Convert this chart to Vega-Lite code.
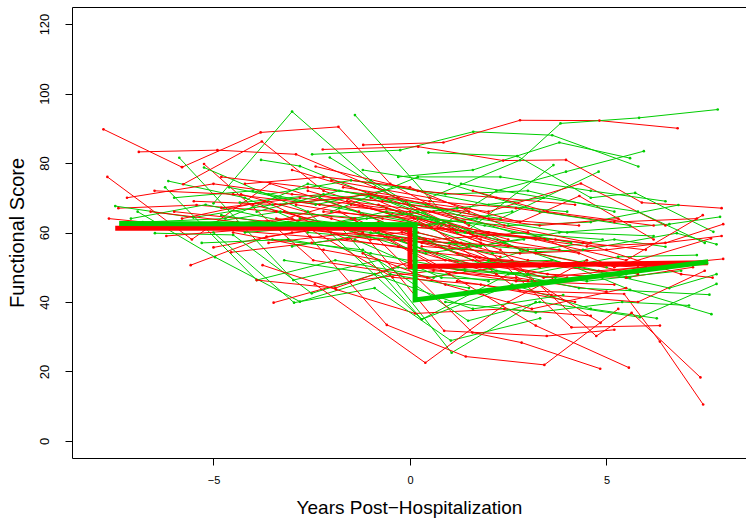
{
"$schema":"https://vega.github.io/schema/vega-lite/v6.json",
"width":674,"height":451,
"autosize":{"type":"none"},
"padding":{"left":72,"top":7,"right":0,"bottom":61},
"background":"white",
"config":{"view":{"stroke":"black","strokeWidth":1},"font":"Liberation Sans"},
"datasets":{
"traj":[
{"i":1,"g":"R","x":-7.8,"y":89.7},{"i":1,"g":"R","x":-5.8,"y":78.8},{"i":1,"g":"R","x":-3.8,"y":88.8},{"i":1,"g":"R","x":-1.82,"y":90.4},{"i":1,"g":"R","x":-0.5,"y":74},{"i":1,"g":"R","x":1.5,"y":62},
{"i":101,"g":"G","x":-5,"y":68.4},{"i":101,"g":"G","x":-3,"y":94.8},{"i":101,"g":"G","x":-1,"y":75},{"i":101,"g":"G","x":1.2,"y":60},{"i":101,"g":"G","x":3.5,"y":58},
{"i":2,"g":"R","x":-7.7,"y":76},{"i":2,"g":"R","x":-5.55,"y":58},{"i":2,"g":"R","x":-3.56,"y":74.1},{"i":2,"g":"R","x":-1.3,"y":66},{"i":2,"g":"R","x":1.2,"y":54},{"i":2,"g":"R","x":3.3,"y":50},
{"i":102,"g":"G","x":-1.4,"y":93.8},{"i":102,"g":"G","x":0.76,"y":66.5},{"i":102,"g":"G","x":2.8,"y":55},{"i":102,"g":"G","x":5,"y":50},
{"i":3,"g":"R","x":-6.9,"y":83.2},{"i":3,"g":"R","x":-4.9,"y":83.7},{"i":3,"g":"R","x":-2.9,"y":82.5},{"i":3,"g":"R","x":-0.9,"y":73},{"i":3,"g":"R","x":1.8,"y":58},
{"i":103,"g":"G","x":-2.49,"y":82.5},{"i":103,"g":"G","x":-0.25,"y":83.7},{"i":103,"g":"G","x":1.61,"y":89},{"i":103,"g":"G","x":3.62,"y":88},{"i":103,"g":"G","x":5.81,"y":79},
{"i":4,"g":"R","x":-1.19,"y":85.2},{"i":4,"g":"R","x":0.85,"y":85.9},{"i":4,"g":"R","x":2.8,"y":92.3},{"i":4,"g":"R","x":4.82,"y":92.2},{"i":4,"g":"R","x":6.81,"y":90},
{"i":104,"g":"G","x":0.5,"y":70},{"i":104,"g":"G","x":2.8,"y":80.8},{"i":104,"g":"G","x":3.83,"y":91.4},{"i":104,"g":"G","x":5.83,"y":93},{"i":104,"g":"G","x":7.83,"y":95.4},
{"i":5,"g":"R","x":-7.42,"y":67},{"i":5,"g":"R","x":-5.43,"y":67.9},{"i":5,"g":"R","x":-3.4,"y":66},{"i":5,"g":"R","x":-1.4,"y":64},{"i":5,"g":"R","x":0.9,"y":52},
{"i":105,"g":"G","x":-0.3,"y":76},{"i":105,"g":"G","x":1.6,"y":78},{"i":105,"g":"G","x":3.8,"y":85.9},{"i":105,"g":"G","x":5.6,"y":81.4},
{"i":6,"g":"R","x":-7.66,"y":64},{"i":6,"g":"R","x":-5,"y":61},{"i":6,"g":"R","x":-2.54,"y":58.8},{"i":6,"g":"R","x":-0.3,"y":56},{"i":6,"g":"R","x":2.2,"y":48},
{"i":106,"g":"G","x":0.8,"y":62},{"i":106,"g":"G","x":2.2,"y":72},{"i":106,"g":"G","x":3.97,"y":77.5},{"i":106,"g":"G","x":5.95,"y":83.4},
{"i":7,"g":"R","x":-5.77,"y":73.9},{"i":7,"g":"R","x":-3.77,"y":86.2},{"i":7,"g":"R","x":-2.2,"y":72},{"i":7,"g":"R","x":0.3,"y":62},{"i":7,"g":"R","x":2.5,"y":56},
{"i":107,"g":"G","x":-5.87,"y":81.5},{"i":107,"g":"G","x":-2.97,"y":46.3},{"i":107,"g":"G","x":-0.8,"y":52},{"i":107,"g":"G","x":1.06,"y":25.4},{"i":107,"g":"G","x":3.2,"y":40},
{"i":8,"g":"R","x":-5.24,"y":79.7},{"i":8,"g":"R","x":-2.46,"y":52},{"i":8,"g":"R","x":0.44,"y":47},{"i":8,"g":"R","x":2.9,"y":51},
{"i":108,"g":"G","x":-5.24,"y":78.7},{"i":108,"g":"G","x":-2.6,"y":66},{"i":108,"g":"G","x":0.3,"y":35},{"i":108,"g":"G","x":2.5,"y":48},{"i":108,"g":"G","x":4.5,"y":52},
{"i":9,"g":"R","x":-5,"y":55.7},{"i":9,"g":"R","x":-3,"y":60},{"i":9,"g":"R","x":-0.8,"y":63},{"i":9,"g":"R","x":1.6,"y":52},{"i":9,"g":"R","x":4,"y":47},
{"i":109,"g":"G","x":-6.15,"y":74.8},{"i":109,"g":"G","x":-4.2,"y":70},{"i":109,"g":"G","x":-2.54,"y":61.7},{"i":109,"g":"G","x":-0.5,"y":65},{"i":109,"g":"G","x":1.8,"y":56},
{"i":10,"g":"R","x":-5.58,"y":50.6},{"i":10,"g":"R","x":-3.65,"y":58.8},{"i":10,"g":"R","x":-1.6,"y":62},{"i":10,"g":"R","x":0.6,"y":58},{"i":10,"g":"R","x":3,"y":60},
{"i":110,"g":"G","x":-6.23,"y":73},{"i":110,"g":"G","x":-3.9,"y":46.3},{"i":110,"g":"G","x":-1.9,"y":52},{"i":110,"g":"G","x":0.6,"y":47},{"i":110,"g":"G","x":3,"y":55},
{"i":11,"g":"R","x":-4.8,"y":67.1},{"i":11,"g":"R","x":-2.8,"y":70},{"i":11,"g":"R","x":-0.6,"y":67},{"i":11,"g":"R","x":1.7,"y":59},{"i":11,"g":"R","x":4.3,"y":54},
{"i":111,"g":"G","x":-7.5,"y":67.6},{"i":111,"g":"G","x":-5.51,"y":64.3},{"i":111,"g":"G","x":-3.5,"y":68},{"i":111,"g":"G","x":-1.5,"y":70},{"i":111,"g":"G","x":0.7,"y":63},
{"i":12,"g":"R","x":-4.55,"y":54.3},{"i":12,"g":"R","x":-2.5,"y":57},{"i":12,"g":"R","x":-0.2,"y":60},{"i":12,"g":"R","x":2.3,"y":53},
{"i":112,"g":"G","x":-6.93,"y":66},{"i":112,"g":"G","x":-4.96,"y":52.9},{"i":112,"g":"G","x":-2.8,"y":40.1},{"i":112,"g":"G","x":-0.5,"y":48},{"i":112,"g":"G","x":1.5,"y":44},
{"i":13,"g":"R","x":-3.47,"y":39.8},{"i":13,"g":"R","x":-1.5,"y":46},{"i":13,"g":"R","x":0.6,"y":49},{"i":13,"g":"R","x":2.7,"y":47},{"i":13,"g":"R","x":5,"y":43},
{"i":113,"g":"G","x":-6.49,"y":59.8},{"i":113,"g":"G","x":-4.5,"y":59.3},{"i":113,"g":"G","x":-2.5,"y":42.5},{"i":113,"g":"G","x":-0.3,"y":50},{"i":113,"g":"G","x":2,"y":46},
{"i":14,"g":"R","x":-3.9,"y":46.3},{"i":14,"g":"R","x":-1.9,"y":44},{"i":14,"g":"R","x":0.1,"y":52},{"i":14,"g":"R","x":2.6,"y":52},
{"i":114,"g":"G","x":-3.79,"y":80.9},{"i":114,"g":"G","x":-2.8,"y":79.1},{"i":114,"g":"G","x":-0.8,"y":70},{"i":114,"g":"G","x":1.4,"y":60},{"i":114,"g":"G","x":3.65,"y":79.4},
{"i":15,"g":"R","x":-3.75,"y":50.6},{"i":15,"g":"R","x":-1.88,"y":43.6},{"i":15,"g":"R","x":0.13,"y":36.7},{"i":15,"g":"R","x":2.4,"y":38},{"i":15,"g":"R","x":4.6,"y":36},
{"i":115,"g":"G","x":-4.33,"y":68.6},{"i":115,"g":"G","x":-2.2,"y":71},{"i":115,"g":"G","x":0,"y":68},{"i":115,"g":"G","x":2.3,"y":64},{"i":115,"g":"G","x":4.8,"y":77.5},
{"i":16,"g":"R","x":-2.22,"y":83.9},{"i":16,"g":"R","x":0.21,"y":84.7},{"i":16,"g":"R","x":2.37,"y":80.7},{"i":16,"g":"R","x":3.97,"y":80.9},{"i":16,"g":"R","x":5.9,"y":68.6},{"i":16,"g":"R","x":7.93,"y":67},
{"i":116,"g":"G","x":-5,"y":60},{"i":116,"g":"G","x":-2.95,"y":39.8},{"i":116,"g":"G","x":-0.9,"y":44},{"i":116,"g":"G","x":1.04,"y":28.9},{"i":116,"g":"G","x":3.31,"y":35.3},
{"i":17,"g":"R","x":-2.8,"y":62},{"i":17,"g":"R","x":-0.59,"y":33.4},{"i":17,"g":"R","x":1.42,"y":24.3},{"i":17,"g":"R","x":3.42,"y":21.9},{"i":17,"g":"R","x":5.3,"y":38},
{"i":117,"g":"G","x":-2.04,"y":81.6},{"i":117,"g":"G","x":0.2,"y":66},{"i":117,"g":"G","x":2.4,"y":57},{"i":117,"g":"G","x":4.2,"y":50},{"i":117,"g":"G","x":5.6,"y":43.5},{"i":117,"g":"G","x":7.67,"y":36.5},
{"i":18,"g":"R","x":-2.42,"y":45.1},{"i":18,"g":"R","x":0.39,"y":22.5},{"i":18,"g":"R","x":2.5,"y":40},{"i":18,"g":"R","x":4.5,"y":52},
{"i":118,"g":"G","x":0.47,"y":83},{"i":118,"g":"G","x":2.73,"y":82},{"i":118,"g":"G","x":4.6,"y":70},{"i":118,"g":"G","x":5.73,"y":71.4},{"i":118,"g":"G","x":7.72,"y":60.2},
{"i":19,"g":"R","x":-4,"y":68},{"i":19,"g":"R","x":-1.2,"y":60},{"i":19,"g":"R","x":0.87,"y":31.7},{"i":19,"g":"R","x":3.48,"y":30.2},{"i":19,"g":"R","x":5.2,"y":32},
{"i":119,"g":"G","x":-3.5,"y":58},{"i":119,"g":"G","x":-1.2,"y":55},{"i":119,"g":"G","x":1.48,"y":34.6},{"i":119,"g":"G","x":3.3,"y":40},{"i":119,"g":"G","x":5.85,"y":35.6},{"i":119,"g":"G","x":7.8,"y":45.2},
{"i":20,"g":"R","x":-3.2,"y":66},{"i":20,"g":"R","x":-0.8,"y":58},{"i":20,"g":"R","x":1.59,"y":31.2},{"i":20,"g":"R","x":2.84,"y":28.3},{"i":20,"g":"R","x":4.84,"y":20.8},
{"i":120,"g":"G","x":-1.8,"y":62},{"i":120,"g":"G","x":0.3,"y":35},{"i":120,"g":"G","x":2.6,"y":45},{"i":120,"g":"G","x":4.6,"y":38},{"i":120,"g":"G","x":6.28,"y":35.3},
{"i":21,"g":"R","x":-1.5,"y":64},{"i":21,"g":"R","x":1,"y":48},{"i":21,"g":"R","x":3.2,"y":33.2},{"i":21,"g":"R","x":5.57,"y":21.1},
{"i":121,"g":"G","x":-2.6,"y":60},{"i":121,"g":"G","x":-0.4,"y":58},{"i":121,"g":"G","x":1.8,"y":50},{"i":121,"g":"G","x":4.3,"y":44},{"i":121,"g":"G","x":7.62,"y":42.1},
{"i":22,"g":"R","x":-1,"y":70},{"i":22,"g":"R","x":1.8,"y":57},{"i":22,"g":"R","x":4.11,"y":32.7},{"i":22,"g":"R","x":6.36,"y":33.2},
{"i":122,"g":"G","x":-0.6,"y":62},{"i":122,"g":"G","x":1.7,"y":56},{"i":122,"g":"G","x":3.8,"y":60},{"i":122,"g":"G","x":6.6,"y":62.4},{"i":122,"g":"G","x":7.89,"y":64.5},
{"i":23,"g":"R","x":-2.6,"y":72},{"i":23,"g":"R","x":0.5,"y":62},{"i":23,"g":"R","x":2.8,"y":43.2},{"i":23,"g":"R","x":5.45,"y":42.3},{"i":23,"g":"R","x":6.36,"y":28.6},{"i":23,"g":"R","x":7.46,"y":10.5},
{"i":123,"g":"G","x":0.2,"y":64},{"i":123,"g":"G","x":2.5,"y":62},{"i":123,"g":"G","x":4.6,"y":63},{"i":123,"g":"G","x":6.83,"y":67.9},
{"i":24,"g":"R","x":-0.8,"y":68},{"i":24,"g":"R","x":2.3,"y":55},{"i":24,"g":"R","x":4.74,"y":30.2},{"i":24,"g":"R","x":5.64,"y":36.9},{"i":24,"g":"R","x":7.39,"y":18.3},
{"i":124,"g":"G","x":-0.2,"y":58},{"i":124,"g":"G","x":2.1,"y":54},{"i":124,"g":"G","x":4.4,"y":55},{"i":124,"g":"G","x":6.79,"y":59.8},{"i":124,"g":"G","x":7.8,"y":56.6},
{"i":25,"g":"R","x":-4.3,"y":71},{"i":25,"g":"R","x":-2,"y":64},{"i":25,"g":"R","x":0.3,"y":57},{"i":25,"g":"R","x":2.6,"y":50},{"i":25,"g":"R","x":4.85,"y":34},
{"i":125,"g":"G","x":0.6,"y":50},{"i":125,"g":"G","x":3,"y":48},{"i":125,"g":"G","x":5.3,"y":53},{"i":125,"g":"G","x":7.3,"y":53.5},
{"i":26,"g":"R","x":-5.2,"y":62},{"i":26,"g":"R","x":-3,"y":64},{"i":26,"g":"R","x":-0.44,"y":47.1},{"i":26,"g":"R","x":1.8,"y":45},{"i":26,"g":"R","x":4.2,"y":40},
{"i":126,"g":"G","x":1,"y":57},{"i":126,"g":"G","x":3.2,"y":55},{"i":126,"g":"G","x":5.2,"y":58},{"i":126,"g":"G","x":6.5,"y":55.9},
{"i":27,"g":"R","x":-6.2,"y":59},{"i":27,"g":"R","x":-4,"y":61},{"i":27,"g":"R","x":-1.8,"y":66},{"i":27,"g":"R","x":0.8,"y":50},{"i":27,"g":"R","x":3,"y":46},
{"i":127,"g":"G","x":-7.1,"y":64},{"i":127,"g":"G","x":-5.2,"y":68},{"i":127,"g":"G","x":-3.1,"y":63},{"i":127,"g":"G","x":-1,"y":60},{"i":127,"g":"G","x":1.5,"y":56},
{"i":28,"g":"R","x":-3,"y":78},{"i":28,"g":"R","x":-0.6,"y":70},{"i":28,"g":"R","x":2,"y":66},{"i":28,"g":"R","x":4.35,"y":74.1},{"i":28,"g":"R","x":6.5,"y":62},
{"i":128,"g":"G","x":-6,"y":70},{"i":128,"g":"G","x":-4,"y":72},{"i":128,"g":"G","x":-1.8,"y":67},{"i":128,"g":"G","x":0.5,"y":62},{"i":128,"g":"G","x":2.6,"y":66},
{"i":29,"g":"R","x":-2,"y":75},{"i":29,"g":"R","x":0.5,"y":70},{"i":29,"g":"R","x":2.8,"y":63},{"i":29,"g":"R","x":4.31,"y":70.5},{"i":29,"g":"R","x":6.2,"y":58},
{"i":129,"g":"G","x":-5.6,"y":62},{"i":129,"g":"G","x":-3.3,"y":66},{"i":129,"g":"G","x":-1.1,"y":64},{"i":129,"g":"G","x":1.2,"y":67},{"i":129,"g":"G","x":3.4,"y":70},
{"i":30,"g":"R","x":-1.5,"y":68},{"i":30,"g":"R","x":1,"y":62},{"i":30,"g":"R","x":3.2,"y":58},{"i":30,"g":"R","x":5.5,"y":52},{"i":30,"g":"R","x":7.45,"y":65},
{"i":130,"g":"G","x":-4.6,"y":73},{"i":130,"g":"G","x":-2.4,"y":68},{"i":130,"g":"G","x":-0.3,"y":73},{"i":130,"g":"G","x":2,"y":68},{"i":130,"g":"G","x":4,"y":66},
{"i":31,"g":"R","x":-0.5,"y":62},{"i":31,"g":"R","x":2,"y":60},{"i":31,"g":"R","x":4.5,"y":56},{"i":31,"g":"R","x":6.5,"y":57},{"i":31,"g":"R","x":7.97,"y":62.4},
{"i":131,"g":"G","x":-3.6,"y":71},{"i":131,"g":"G","x":-1.5,"y":75},{"i":131,"g":"G","x":0.9,"y":71},{"i":131,"g":"G","x":3,"y":72},{"i":131,"g":"G","x":5.2,"y":66},
{"i":32,"g":"R","x":0.3,"y":56},{"i":32,"g":"R","x":2.8,"y":54},{"i":32,"g":"R","x":5,"y":55},{"i":32,"g":"R","x":7.93,"y":59},
{"i":132,"g":"G","x":-2.8,"y":64},{"i":132,"g":"G","x":-0.6,"y":61},{"i":132,"g":"G","x":1.7,"y":64},{"i":132,"g":"G","x":4,"y":60},{"i":132,"g":"G","x":6.2,"y":59},
{"i":33,"g":"R","x":0.5,"y":66},{"i":33,"g":"R","x":3,"y":60},{"i":33,"g":"R","x":5.2,"y":50},{"i":33,"g":"R","x":7.66,"y":58.3},
{"i":133,"g":"G","x":-4.2,"y":60},{"i":133,"g":"G","x":-2,"y":62},{"i":133,"g":"G","x":0.4,"y":54},{"i":133,"g":"G","x":2.9,"y":58},
{"i":34,"g":"R","x":0.2,"y":60},{"i":34,"g":"R","x":3,"y":52},{"i":34,"g":"R","x":5.8,"y":50},{"i":34,"g":"R","x":7.97,"y":52.4},
{"i":134,"g":"G","x":-3,"y":56},{"i":134,"g":"G","x":-0.8,"y":60},{"i":134,"g":"G","x":1.3,"y":51},{"i":134,"g":"G","x":3.6,"y":52},{"i":134,"g":"G","x":5.6,"y":47},
{"i":35,"g":"R","x":-6.5,"y":72},{"i":35,"g":"R","x":-4.5,"y":71},{"i":35,"g":"R","x":-2.3,"y":68},{"i":35,"g":"R","x":0,"y":66},{"i":35,"g":"R","x":2.5,"y":58},
{"i":135,"g":"G","x":-1.4,"y":58},{"i":135,"g":"G","x":0.8,"y":47},{"i":135,"g":"G","x":3.1,"y":46},{"i":135,"g":"G","x":5.5,"y":48},
{"i":36,"g":"R","x":-7.2,"y":70},{"i":36,"g":"R","x":-5,"y":74},{"i":36,"g":"R","x":-3,"y":71},{"i":36,"g":"R","x":-0.7,"y":69},{"i":36,"g":"R","x":1.5,"y":66},
{"i":136,"g":"G","x":1.3,"y":74},{"i":136,"g":"G","x":3.4,"y":70},{"i":136,"g":"G","x":5.8,"y":66},{"i":136,"g":"G","x":7.5,"y":57},
{"i":37,"g":"R","x":-6,"y":66},{"i":37,"g":"R","x":-3.5,"y":63},{"i":37,"g":"R","x":-1,"y":58},{"i":37,"g":"R","x":1.3,"y":57},{"i":37,"g":"R","x":3.8,"y":55},
{"i":137,"g":"G","x":-2,"y":66},{"i":137,"g":"G","x":0.2,"y":76},{"i":137,"g":"G","x":2.3,"y":76},{"i":137,"g":"G","x":4.6,"y":72},{"i":137,"g":"G","x":6.5,"y":69},
{"i":38,"g":"R","x":-4.8,"y":76},{"i":38,"g":"R","x":-2.6,"y":73},{"i":38,"g":"R","x":-0.3,"y":70},{"i":38,"g":"R","x":2,"y":64},{"i":38,"g":"R","x":4.3,"y":62},
{"i":138,"g":"G","x":-6.8,"y":63},{"i":138,"g":"G","x":-4.7,"y":64},{"i":138,"g":"G","x":-2.6,"y":74},{"i":138,"g":"G","x":-0.5,"y":69},{"i":138,"g":"G","x":1.6,"y":60},
{"i":39,"g":"R","x":-3.8,"y":62},{"i":39,"g":"R","x":-1.6,"y":69},{"i":39,"g":"R","x":0.6,"y":66},{"i":39,"g":"R","x":3.3,"y":62},{"i":39,"g":"R","x":5.3,"y":64},
{"i":139,"g":"G","x":-5.3,"y":57},{"i":139,"g":"G","x":-3.1,"y":58},{"i":139,"g":"G","x":-1,"y":54},{"i":139,"g":"G","x":1.4,"y":49},{"i":139,"g":"G","x":3.7,"y":47},
{"i":40,"g":"R","x":-2.9,"y":68},{"i":40,"g":"R","x":-0.7,"y":64},{"i":40,"g":"R","x":1.5,"y":60},{"i":40,"g":"R","x":3.7,"y":58},{"i":40,"g":"R","x":6,"y":55},
{"i":140,"g":"G","x":0.9,"y":40},{"i":140,"g":"G","x":3.2,"y":37},{"i":140,"g":"G","x":5.4,"y":40},{"i":140,"g":"G","x":7.1,"y":39},
{"i":41,"g":"R","x":-1.7,"y":73},{"i":41,"g":"R","x":0.5,"y":69},{"i":41,"g":"R","x":2.7,"y":67},{"i":41,"g":"R","x":5.2,"y":63},{"i":41,"g":"R","x":7.3,"y":64},
{"i":141,"g":"G","x":-3.2,"y":52},{"i":141,"g":"G","x":-0.9,"y":48},{"i":141,"g":"G","x":1.6,"y":38},{"i":141,"g":"G","x":3.9,"y":42},
{"i":42,"g":"R","x":1,"y":52},{"i":42,"g":"R","x":3.5,"y":48},{"i":42,"g":"R","x":5.5,"y":47},{"i":42,"g":"R","x":7.2,"y":50},
{"i":142,"g":"G","x":2,"y":52},{"i":142,"g":"G","x":4.3,"y":50},{"i":142,"g":"G","x":6.6,"y":44},{"i":142,"g":"G","x":7.8,"y":48},
{"i":43,"g":"R","x":1.2,"y":46},{"i":43,"g":"R","x":3.6,"y":42},{"i":43,"g":"R","x":5.8,"y":40},{"i":43,"g":"R","x":7.5,"y":49},
{"i":143,"g":"G","x":-3.9,"y":66},{"i":143,"g":"G","x":-1.8,"y":72},{"i":143,"g":"G","x":0.4,"y":68},{"i":143,"g":"G","x":2.6,"y":60},{"i":143,"g":"G","x":4.9,"y":58},
{"i":44,"g":"R","x":-4.5,"y":60},{"i":44,"g":"R","x":-2.2,"y":55},{"i":44,"g":"R","x":0.2,"y":50},{"i":44,"g":"R","x":2.7,"y":46},{"i":44,"g":"R","x":5.2,"y":45},
{"i":144,"g":"G","x":-2.3,"y":70},{"i":144,"g":"G","x":0,"y":60},{"i":144,"g":"G","x":2.2,"y":49},{"i":144,"g":"G","x":4.5,"y":46},{"i":144,"g":"G","x":6.9,"y":49},
{"i":45,"g":"R","x":-5.5,"y":69},{"i":45,"g":"R","x":-3.3,"y":68},{"i":45,"g":"R","x":-1,"y":71},{"i":45,"g":"R","x":1.4,"y":63},
{"i":145,"g":"G","x":-1.2,"y":78},{"i":145,"g":"G","x":1,"y":74},{"i":145,"g":"G","x":3.3,"y":66},{"i":145,"g":"G","x":5.6,"y":62},
{"i":46,"g":"R","x":-3.4,"y":64},{"i":46,"g":"R","x":-1.3,"y":62},{"i":46,"g":"R","x":1.1,"y":61},{"i":46,"g":"R","x":3.2,"y":54},{"i":46,"g":"R","x":5.8,"y":48},
{"i":146,"g":"G","x":-4.8,"y":65},{"i":146,"g":"G","x":-2.7,"y":61},{"i":146,"g":"G","x":-0.6,"y":66},{"i":146,"g":"G","x":1.9,"y":62},{"i":146,"g":"G","x":4.1,"y":57},
{"i":47,"g":"R","x":-2.4,"y":79},{"i":47,"g":"R","x":0.2,"y":72},{"i":47,"g":"R","x":2.2,"y":70},{"i":47,"g":"R","x":4.2,"y":68},
{"i":48,"g":"R","x":1.6,"y":72},{"i":48,"g":"R","x":3.5,"y":66},{"i":48,"g":"R","x":6.2,"y":62},
{"i":49,"g":"R","x":-6.6,"y":66},{"i":49,"g":"R","x":-4.4,"y":63},{"i":49,"g":"R","x":-2,"y":60},{"i":49,"g":"R","x":0.4,"y":58},
{"i":50,"g":"R","x":-1.2,"y":54},{"i":50,"g":"R","x":0.9,"y":45},{"i":50,"g":"R","x":3.1,"y":38},{"i":50,"g":"R","x":5.5,"y":44},
{"i":51,"g":"R","x":2,"y":60},{"i":51,"g":"R","x":4.4,"y":57},{"i":51,"g":"R","x":6.9,"y":48},{"i":51,"g":"R","x":7.7,"y":47},
{"i":52,"g":"R","x":-4.2,"y":74},{"i":52,"g":"R","x":-2.2,"y":76},{"i":52,"g":"R","x":0,"y":73},{"i":52,"g":"R","x":2.4,"y":62},{"i":52,"g":"R","x":4.6,"y":57},
{"i":53,"g":"R","x":-3.6,"y":57},{"i":53,"g":"R","x":-1.4,"y":60},{"i":53,"g":"R","x":1,"y":56},{"i":53,"g":"R","x":3.4,"y":47},{"i":53,"g":"R","x":6,"y":50},
{"i":54,"g":"R","x":-2.2,"y":66},{"i":54,"g":"R","x":0.1,"y":64},{"i":54,"g":"R","x":2.1,"y":52},{"i":54,"g":"R","x":4.8,"y":49},{"i":54,"g":"R","x":7.1,"y":51},
{"i":55,"g":"R","x":-5.8,"y":64},{"i":55,"g":"R","x":-3.7,"y":69},{"i":55,"g":"R","x":-1.6,"y":58},{"i":55,"g":"R","x":0.7,"y":54},{"i":55,"g":"R","x":3.4,"y":51}
],
"means":[
{"g":"R","o":1,"x":-7.5,"y":61.2},{"g":"R","o":2,"x":0,"y":61.2},{"g":"R","o":3,"x":0,"y":50.2},{"g":"R","o":4,"x":7.58,"y":51.3},
{"g":"G","o":1,"x":-7.4,"y":62.6},{"g":"G","o":2,"x":0.13,"y":62.2},{"g":"G","o":3,"x":0.13,"y":40.6},{"g":"G","o":4,"x":7.59,"y":51.6}
]},
"encoding":{
"x":{"field":"x","type":"quantitative","scale":{"domain":[-8.6,8.55],"nice":false,"zero":false},
"axis":{"values":[-5,0,5],"grid":false,"domain":false,"tickColor":"black","tickSize":7,"labelFontSize":11,"labelColor":"black","labelPadding":9,"title":"Years Post\u2212Hospitalization","titleFontSize":19,"titleFontWeight":"normal","titleColor":"black","titlePadding":13}},
"y":{"field":"y","type":"quantitative","scale":{"domain":[-4.9,124.9],"nice":false,"zero":false},
"axis":{"values":[0,20,40,60,80,100,120],"grid":false,"domain":false,"tickColor":"black","tickSize":7,"labelFontSize":13,"labelColor":"black","labelAngle":270,"labelAlign":"center","labelBaseline":"bottom","labelPadding":14,"title":"Functional Score","titleFontSize":20,"titleFontWeight":"normal","titleColor":"black","titlePadding":11}},
"color":{"field":"g","type":"nominal","scale":{"domain":["R","G"],"range":["#ff0000","#00cd00"]},"legend":null}
},
"layer":[
{"data":{"name":"traj"},"mark":{"type":"line","strokeWidth":1,"clip":true},"encoding":{"detail":{"field":"i","type":"nominal"}}},
{"data":{"name":"traj"},"mark":{"type":"point","filled":true,"size":7,"opacity":1,"clip":true}},
{"data":{"name":"means"},"mark":{"type":"line","strokeWidth":5,"clip":true},"encoding":{"order":{"field":"o","type":"quantitative"},"detail":{"field":"g","type":"nominal"}}}
]
}
